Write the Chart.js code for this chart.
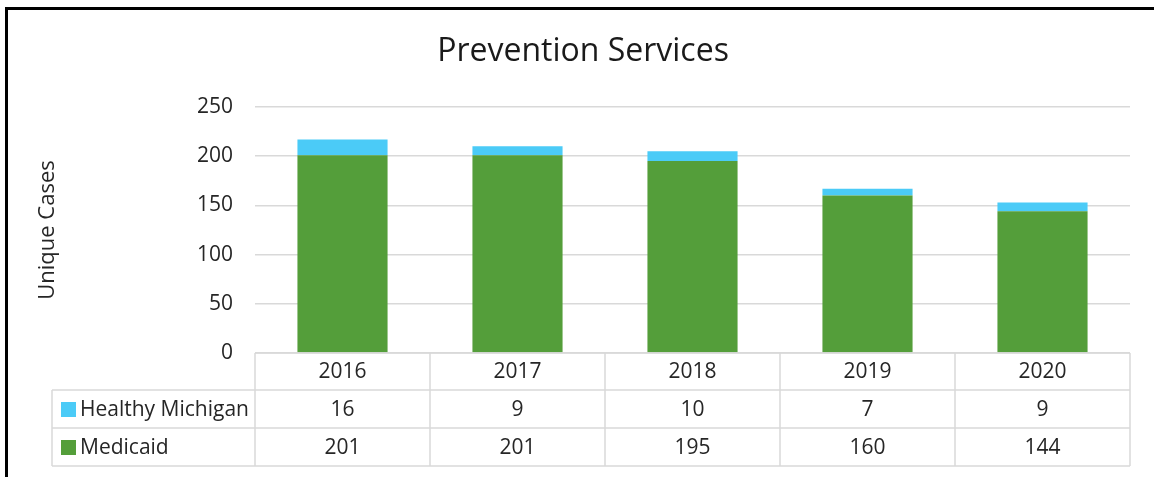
<!DOCTYPE html>
<html>
<head>
<meta charset="utf-8">
<script src="https://cdn.jsdelivr.net/npm/chart.js@4"></script>
<style>
  html, body { margin: 0; padding: 0; background: #fff; }
  #wrap { position: relative; width: 1154px; height: 477px; overflow: hidden; }
  #frame { position: absolute; left: 5px; top: 7px; right: -10px; bottom: -10px;
           border-left: 3px solid #000; border-top: 3px solid #000; pointer-events: none; }
  canvas { position: absolute; left: 0; top: 0; }
</style>
</head>
<body>
<div id="wrap">
  <canvas id="myChart" width="1154" height="477"></canvas>
  <div id="frame"></div>
</div>
<script>
// chart data
const chartTitle = 'Prevention Services';
const years = ['2016', '2017', '2018', '2019', '2020'];
const medicaid = [201, 201, 195, 160, 144];
const healthyMichigan = [16, 9, 10, 7, 9];

const FONT = '"Open Sans", "DejaVu Sans", sans-serif';
const TEXT = '#262626';
const GRID = '#d9d9d9';

// title + data table under the bars (Excel style)
const dataTable = {
    id: 'dataTable',
    afterDraw(chart) {
        const ctx = chart.ctx;
        const x = chart.scales.x;
        const area = chart.chartArea;
        const colW = x.width / years.length;
        const rowH = [37, 38, 38];
        const top = area.bottom;
        const r1 = top + rowH[0], r2 = r1 + rowH[1], r3 = r2 + rowH[2];
        const tableLeft = 52;

        ctx.save();
        // title
        ctx.fillStyle = '#1a1a1a';
        ctx.font = '32px ' + FONT;
        ctx.textAlign = 'center';
        ctx.textBaseline = 'middle';
        ctx.fillText(chartTitle, chart.width / 2 + 6, 52);

        ctx.strokeStyle = GRID;
        ctx.lineWidth = 1.5;
        ctx.beginPath();
        ctx.moveTo(area.left, top); ctx.lineTo(area.right, top);
        ctx.moveTo(tableLeft, r1); ctx.lineTo(area.right, r1);
        ctx.moveTo(tableLeft, r2); ctx.lineTo(area.right, r2);
        ctx.moveTo(tableLeft, r3); ctx.lineTo(area.right, r3);
        ctx.moveTo(tableLeft, r1); ctx.lineTo(tableLeft, r3);
        for (let i = 0; i <= years.length; i++) {
            const xx = area.left + i * colW;
            ctx.moveTo(xx, top); ctx.lineTo(xx, r3);
        }
        ctx.stroke();

        ctx.font = '21px ' + FONT;
        const rows = [
            { label: null, vals: years, y: (top + r1) / 2 },
            { label: 'Healthy Michigan', color: chart.data.datasets[1].backgroundColor, vals: healthyMichigan, y: (r1 + r2) / 2 },
            { label: 'Medicaid', color: chart.data.datasets[0].backgroundColor, vals: medicaid, y: (r2 + r3) / 2 }
        ];
        rows.forEach(row => {
            row.vals.forEach((v, i) => {
                ctx.fillStyle = TEXT;
                ctx.textAlign = 'center';
                ctx.fillText(String(v), x.getPixelForValue(i), row.y + 1);
            });
            if (row.label) {
                ctx.fillStyle = row.color;
                ctx.fillRect(61, row.y - 7, 15, 15);
                ctx.fillStyle = TEXT;
                ctx.textAlign = 'left';
                ctx.fillText(row.label, 80, row.y + 1);
            }
        });
        ctx.restore();
    }
};

const ctx = document.getElementById('myChart');
const myChart = new Chart(ctx, {
    type: 'bar',
    data: {
        labels: years,
        datasets: [
            {
                label: 'Medicaid',
                data: medicaid,
                backgroundColor: '#549e3a',
                barPercentage: 0.515,
                categoryPercentage: 1
            },
            {
                label: 'Healthy Michigan',
                data: healthyMichigan,
                backgroundColor: '#4bcbf7',
                barPercentage: 0.515,
                categoryPercentage: 1
            }
        ]
    },
    options: {
        responsive: false,
        animation: false,
        layout: { padding: { left: 0, right: 24, top: 107, bottom: 124 } },
        plugins: {
            legend: { display: false },
            tooltip: { enabled: false },
            title: { display: false }
        },
        scales: {
            x: {
                display: false,
                stacked: true
            },
            y: {
                stacked: true,
                min: 0,
                max: 250,
                ticks: {
                    stepSize: 50,
                    color: TEXT,
                    padding: 22,
                    font: { family: FONT, size: 21 }
                },
                grid: { color: GRID, lineWidth: 1.5, drawTicks: false },
                border: { display: false },
                title: {
                    display: true,
                    text: 'Unique Cases',
                    color: TEXT,
                    font: { family: FONT, size: 22 },
                    padding: { top: 35, bottom: 0 }
                },
                afterFit(scale) { scale.width = 255; }
            }
        }
    },
    plugins: [dataTable]
});
</script>
</body>
</html>
